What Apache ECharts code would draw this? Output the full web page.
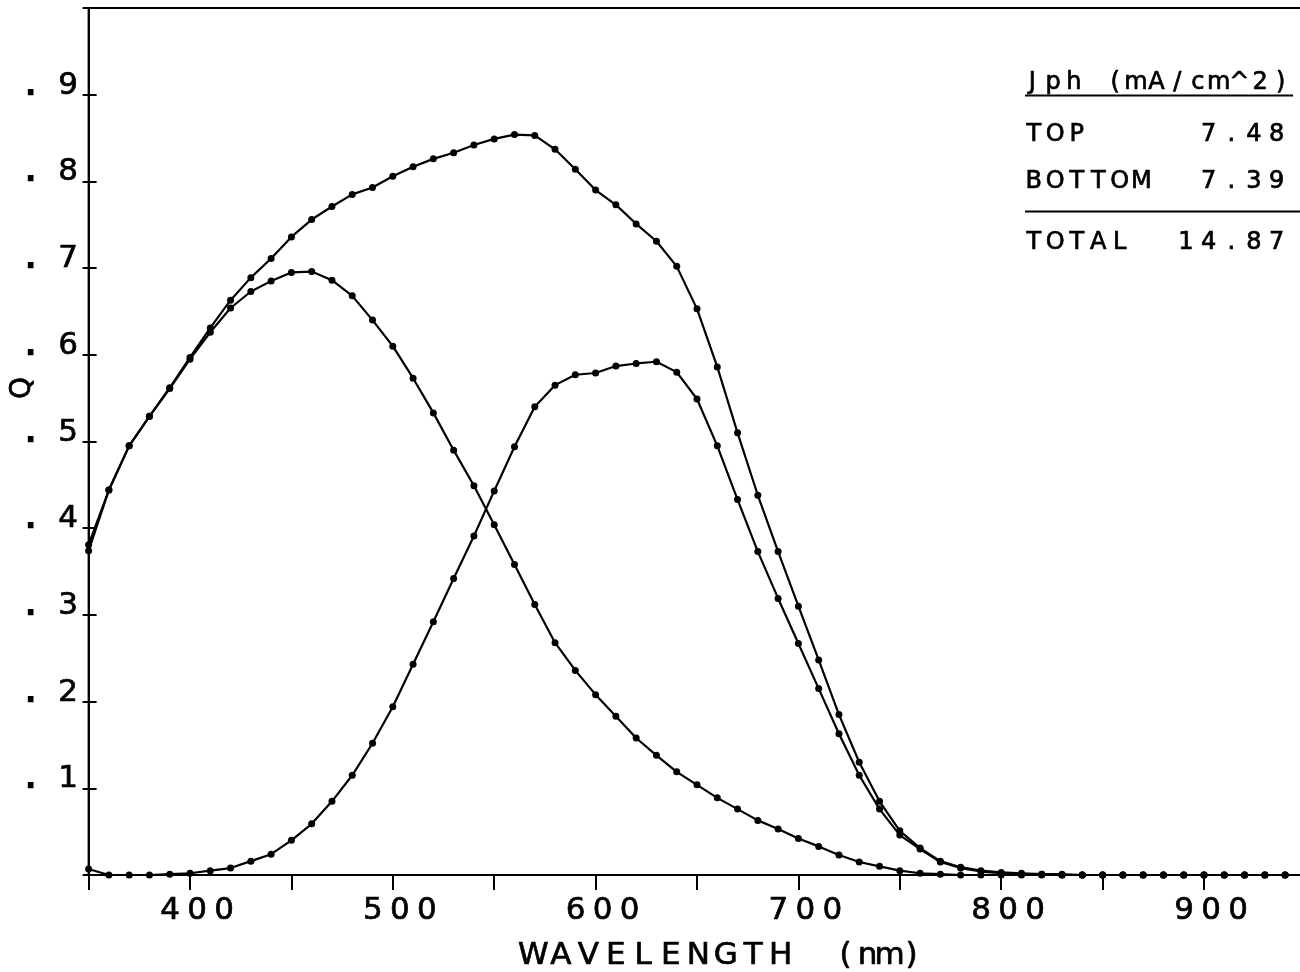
<!DOCTYPE html>
<html>
<head>
<meta charset="utf-8">
<script src="https://cdn.jsdelivr.net/npm/echarts@6/dist/echarts.min.js"></script>
<style>
  html, body { margin: 0; padding: 0; background: #fff; }
  #chart { width: 1300px; height: 972px; }
</style>
</head>
<body>
<div id="chart"></div>
<script>
// Wavelength grid (nm), one reading every 10 nm
const wavelengths = [
  350, 360, 370, 380, 390, 400, 410, 420, 430, 440,
  450, 460, 470, 480, 490, 500, 510, 520, 530, 540,
  550, 560, 570, 580, 590, 600, 610, 620, 630, 640,
  650, 660, 670, 680, 690, 700, 710, 720, 730, 740,
  750, 760, 770, 780, 790, 800, 810, 820, 830, 840,
  850, 860, 870, 880, 890, 900, 910, 920, 930, 940, 950
];

// Quantum efficiency of the top cell
const qTop = [
  0.374, 0.444, 0.495, 0.529, 0.561, 0.595, 0.626, 0.654, 0.673, 0.685,
  0.695, 0.696, 0.686, 0.668, 0.640, 0.610, 0.573, 0.533, 0.490, 0.449,
  0.404, 0.358, 0.312, 0.268, 0.236, 0.208, 0.183, 0.158, 0.138, 0.119,
  0.104, 0.089, 0.076, 0.063, 0.053, 0.042, 0.033, 0.023, 0.015, 0.010,
  0.005, 0.002, 0.001, 0.000, 0.000, 0.000, 0.000, 0.000, 0.000, 0.000,
  0.000, 0.000, 0.000, 0.000, 0.000, 0.000, 0.000, 0.000, 0.000, 0.000, 0.000
];

// Quantum efficiency of the bottom cell
const qBottom = [
  0.007, 0.000, 0.000, 0.000, 0.001, 0.002, 0.005, 0.008, 0.016, 0.024,
  0.040, 0.059, 0.085, 0.115, 0.152, 0.194, 0.243, 0.292, 0.342, 0.391,
  0.443, 0.494, 0.540, 0.565, 0.577, 0.579, 0.587, 0.590, 0.592, 0.580,
  0.549, 0.495, 0.433, 0.373, 0.319, 0.267, 0.215, 0.163, 0.115, 0.076,
  0.046, 0.030, 0.015, 0.008, 0.004, 0.002, 0.001, 0.001, 0.000, 0.000,
  0.000, 0.000, 0.000, 0.000, 0.000, 0.000, 0.000, 0.000, 0.000, 0.000, 0.000
];

// Quantum efficiency of the stack (top + bottom)
const qTotal = [
  0.381, 0.444, 0.495, 0.529, 0.562, 0.597, 0.631, 0.663, 0.689, 0.711,
  0.736, 0.756, 0.771, 0.785, 0.793, 0.806, 0.817, 0.826, 0.833, 0.842,
  0.849, 0.854, 0.853, 0.837, 0.814, 0.790, 0.773, 0.751, 0.731, 0.702,
  0.653, 0.586, 0.510, 0.438, 0.373, 0.310, 0.248, 0.185, 0.130, 0.085,
  0.051, 0.031, 0.016, 0.009, 0.005, 0.003, 0.002, 0.001, 0.001, 0.000,
  0.000, 0.000, 0.000, 0.000, 0.000, 0.000, 0.000, 0.000, 0.000, 0.000, 0.000
];

// Photocurrent table
const jphTitle = 'Jph (mA/cm^2)';
const jphNames = ['TOP', 'BOTTOM', 'TOTAL'];
const jphValues = ['7.48', '7.39', '14.87'];

const xLabelValues = [400, 500, 600, 700, 800, 900];
const xTitle = 'WAVELENGTH';
const xUnit = '(nm)';
const yTitle = 'Q';

const FONT = '"DejaVu Sans", sans-serif';
// thin outline that thickens glyphs to a pen-plotter stroke
const PEN = { textBorderColor: '#000', textBorderWidth: 0.7 };

// Wrap every character in its own fixed-width rich-text cell (plotter-style spacing)
function cells(str, style) {
  return str.split('').map(ch => '{' + style + '|' + ch + '}').join('');
}

// cell style for axis texts (ECharts text style)
function cellStyle(width, size) {
  return Object.assign({ width: width, align: 'center', fontSize: size, fontFamily: FONT, color: '#000' }, PEN);
}

// cell style for graphic texts (zrender text style)
function plainCell(width, size) {
  return { width: width, align: 'center', fontSize: size, fontFamily: FONT, fill: '#000', stroke: '#000', lineWidth: 0.7 };
}

const chart = echarts.init(document.getElementById('chart'), null, { renderer: 'canvas' });

function seriesOf(values, name) {
  return {
    name: name,
    type: 'line',
    data: wavelengths.map((w, i) => [w, values[i]]),
    symbol: 'circle',
    symbolSize: 7,
    showSymbol: true,
    lineStyle: { color: '#000', width: 2.2 },
    itemStyle: { color: '#000' },
    emphasis: { disabled: true },
    animation: false
  };
}

const tableRows = [];
const rowY = [135, 182, 243];
jphNames.forEach((n, i) => {
  tableRows.push({
    type: 'text', x: 1023, y: rowY[i],
    style: {
      text: cells(n, 'L'), align: 'left', verticalAlign: 'middle',
      rich: { L: plainCell(21.5, 24) }
    }
  });
  tableRows.push({
    type: 'text', x: 1288, y: rowY[i],
    style: {
      text: cells(jphValues[i], 'V'), align: 'right', verticalAlign: 'middle',
      rich: { V: plainCell(22.7, 24) }
    }
  });
});

const option = {
  backgroundColor: '#fff',
  animation: false,
  grid: {
    left: 88.6, top: 8, right: -5.4, bottom: 97,
    outerBoundsMode: 'none',
    containLabel: false,
    show: true, borderColor: '#000', borderWidth: 2
  },
  xAxis: {
    type: 'value', min: 350, max: 950, interval: 50,
    axisLine: { lineStyle: { color: '#000', width: 2 } },
    axisTick: { show: true, length: 15, lineStyle: { color: '#000', width: 2 } },
    splitLine: { show: false },
    axisLabel: {
      margin: 20,
      padding: [0, 0, 0, 14],
      formatter: v => xLabelValues.indexOf(v) >= 0 ? cells(String(v), 'c') : '',
      rich: { c: cellStyle(27, 31) }
    },
    name: cells(xTitle, 'w') + '{g| }' + cells(xUnit, 'u'),
    nameLocation: 'middle',
    nameGap: 65,
    nameTextStyle: {
      padding: [0, 0, 0, 48],
      rich: {
        w: cellStyle(27.5, 31),
        g: { width: 40, fontSize: 31, fontFamily: FONT },
        u: cellStyle(22, 31)
      }
    }
  },
  yAxis: [
    {
      type: 'value', min: 0, max: 1, interval: 0.1,
      axisLine: { show: true, lineStyle: { color: '#000', width: 2 } },
      axisTick: { show: true, inside: true, length: 8, lineStyle: { color: '#000', width: 2 } },
      splitLine: { show: false },
      axisLabel: {
        margin: 8,
        verticalAlign: 'middle',
        padding: [0, 0, 18, 0],
        formatter: v => (v > 0.05 && v < 0.95) ? '{p|.}{n|' + Math.round(v * 10) + '}' : '',
        rich: {
          p: Object.assign(cellStyle(50, 31), { textBorderWidth: 2.5 }),
          n: cellStyle(25, 31)
        }
      }
    },
    {
      // outward half of the crossing ticks
      type: 'value', min: 0, max: 1, interval: 0.1, position: 'left', offset: 0,
      axisLine: { show: false },
      axisTick: { show: true, inside: false, length: 6, lineStyle: { color: '#000', width: 2 } },
      axisLabel: { show: false },
      splitLine: { show: false }
    }
  ],
  series: [
    seriesOf(qTotal, 'TOTAL'),
    seriesOf(qTop, 'TOP'),
    seriesOf(qBottom, 'BOTTOM')
  ],
  graphic: [
    {
      type: 'text', x: 23, y: 388, rotation: Math.PI / 2,
      style: {
        text: yTitle, align: 'center', verticalAlign: 'middle', fontSize: 28, fontFamily: FONT,
        fill: '#000', stroke: '#000', lineWidth: 0.7
      }
    },
    {
      type: 'text', x: 1022, y: 83,
      style: {
        text: cells(jphTitle, 'T'), align: 'left', verticalAlign: 'middle',
        rich: { T: plainCell(20.7, 24) }
      }
    },
    {
      type: 'line', shape: { x1: 1025, y1: 95.5, x2: 1293, y2: 95.5 },
      style: { stroke: '#000', lineWidth: 1.8 }
    },
    {
      type: 'line', shape: { x1: 1025, y1: 211.5, x2: 1300, y2: 211.5 },
      style: { stroke: '#000', lineWidth: 2 }
    }
  ].concat(tableRows)
};

chart.setOption(option);
</script>
</body>
</html>
